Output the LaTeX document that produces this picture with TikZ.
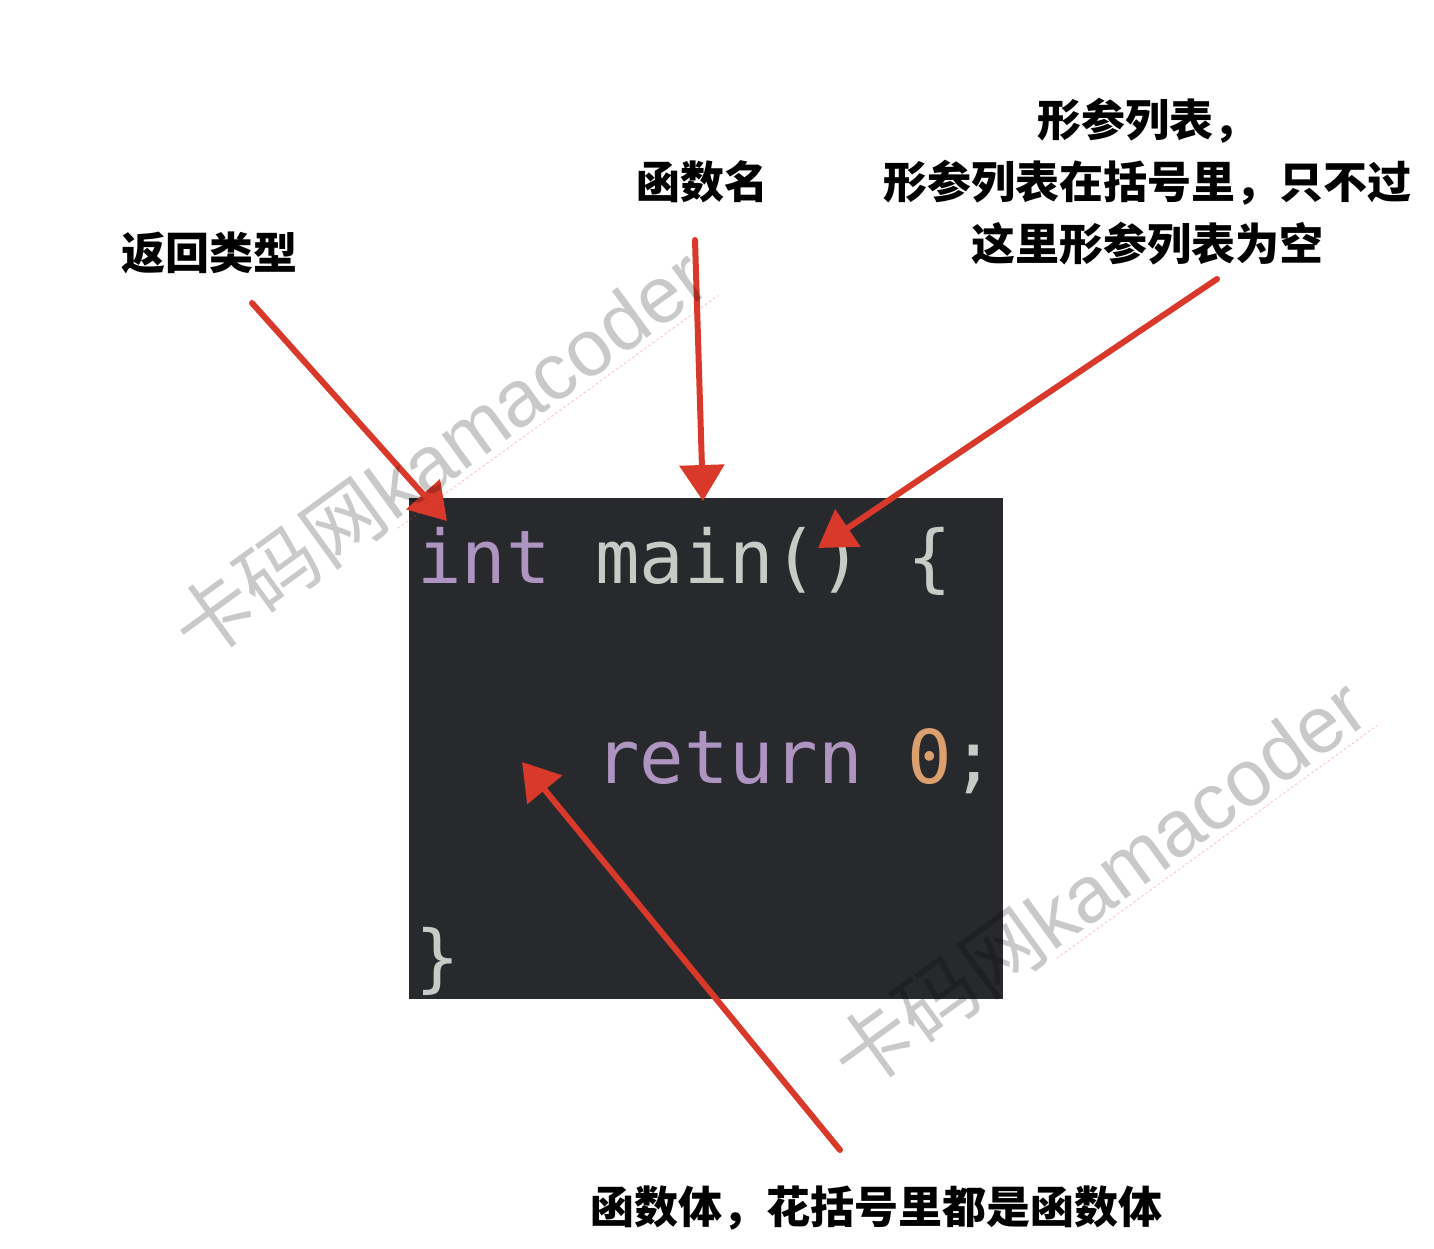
\documentclass[tikz,border=0pt]{standalone}
\usepackage{fontspec}
\newfontfamily\cjk{Noto Sans CJK SC}
\newfontfamily\wmlat{Liberation Sans}
\newfontfamily\codefont{DejaVu Sans Mono}
\usetikzlibrary{arrows.meta,calc}
\definecolor{codebg}{HTML}{28292C}
\definecolor{codefg}{HTML}{C8CAC6}
\definecolor{kw}{HTML}{AE94C0}
\definecolor{num}{HTML}{DBA06E}
\definecolor{pen}{HTML}{D8392A}
\tikzset{
  codebox/.style={fill=codebg, draw=none, inner sep=0},
  codetxt/.style={text=codefg, inner sep=0, font=\codefont\fontsize{74}{80}\selectfont},
  lbl/.style={text=black, inner sep=0, font=\cjk\bfseries\fontsize{44}{62}\selectfont},
  redarrow/.style={draw=pen, line width=6pt, line cap=round, -{Triangle[length=36pt,width=44pt]}},
  wmc/.style={text=black, text opacity=0.21, inner sep=0, font=\cjk\fontsize{80}{80}\selectfont},
  wml/.style={text=black, text opacity=0.21, inner sep=0, font=\wmlat\fontsize{80}{80}\selectfont},
  wmline/.style={draw=red!70!white, draw opacity=0.35, line width=0.9pt, dash pattern=on 2.5pt off 2.5pt}
}
\begin{document}
\begin{tikzpicture}[x=1pt,y=-1pt]
\useasboundingbox (0,0) rectangle (1434,1248);
\fill[white] (0,0) rectangle (1434,1248);

% code block
\node[codebox, minimum width=594pt, minimum height=501pt, anchor=north west] (code) at (409,498) {};
\node[codetxt, anchor=base west] (l1) at (417,583) {\textcolor{kw}{int} main() \{};
\node[codetxt, anchor=base west] (l2) at (595.2,783) {\textcolor{kw}{return} \textcolor{num}{0};};
\node[codetxt, anchor=base west] (l3) at (415,983) {\}};

% labels
\node[lbl] (rt) at (209.5,253) {返回类型};
\node[lbl] (fn) at (702,182) {函数名};
\node[lbl, align=center] (pl) at (1147,182) {形参列表，\\形参列表在括号里，只不过\\这里形参列表为空};
\node[lbl] (fb) at (876,1208) {函数体，花括号里都是函数体};

% arrow ends
\coordinate (a1s) at (252,303);  \coordinate (a1e) at (447,521);
\coordinate (a2s) at (695,240);  \coordinate (a2e) at (703,501);
\coordinate (a3s) at (1217,279); \coordinate (a3e) at (818,548);
\coordinate (a4s) at (840,1150); \coordinate (a4e) at (522,762);
\draw[redarrow] (a1s) -- (a1e);
\draw[redarrow] (a2s) -- (a2e);
\draw[redarrow] (a3s) -- (a3e);
\draw[redarrow] (a4s) -- (a4e);

% watermarks
\begin{scope}[shift={(199,664)}, rotate=36, transform shape]
  \node[wmc, anchor=base west] (wm1c) at (0,0) {卡码网};
  \node[wml, anchor=base west] (wm1l) at (wm1c.base east) {kamacoder};
\end{scope}
\draw[wmline] ($(wm1l.base west)!7pt!-90:(wm1l.base east)$) -- ($(wm1l.base east)!7pt!90:(wm1l.base west)$);
\begin{scope}[shift={(858,1094)}, rotate=36, transform shape]
  \node[wmc, anchor=base west] (wm2c) at (0,0) {卡码网};
  \node[wml, anchor=base west] (wm2l) at (wm2c.base east) {kamacoder};
\end{scope}
\draw[wmline] ($(wm2l.base west)!7pt!-90:(wm2l.base east)$) -- ($(wm2l.base east)!7pt!90:(wm2l.base west)$);
\end{tikzpicture}
\end{document}
